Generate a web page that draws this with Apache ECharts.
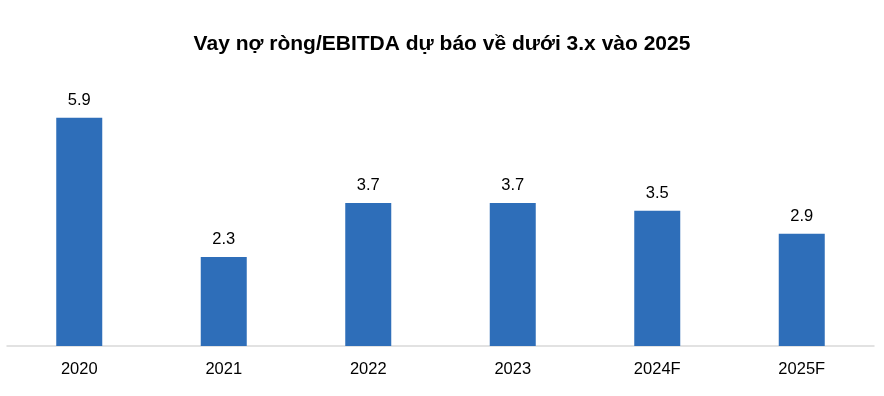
<!DOCTYPE html>
<html><head><meta charset="utf-8">
<script src="https://cdn.jsdelivr.net/npm/echarts@6/dist/echarts.min.js"></script>
<style>html,body{margin:0;padding:0;background:#fff}#c{width:884px;height:396px}</style>
</head><body><div id="c"></div>
<script>
const categories = ['2020','2021','2022','2023','2024F','2025F'];
const values = [5.9, 2.3, 3.7, 3.7, 3.5, 2.9];
const titleText = 'Vay nợ ròng/EBITDA dự báo về dưới 3.x vào 2025';
const chart = echarts.init(document.getElementById('c'));
chart.setOption({
  animation: false,
  backgroundColor: '#fff',
  title: {
    text: titleText, left: 'center', top: 29,
    textStyle: {fontFamily: 'Liberation Sans, Arial', fontWeight: 'bold', fontSize: 21, color: '#000'}
  },
  grid: {left: 7, right: 10, top: 114, bottom: 50},
  xAxis: {
    type: 'category', data: categories,
    axisLine: {lineStyle: {color: '#d9d9d9', width: 1.5}},
    axisTick: {show: false},
    axisLabel: {fontFamily: 'Liberation Sans, Arial', fontSize: 16.5, color: '#000', margin: 15}
  },
  yAxis: {type: 'value', min: 0, max: 6, show: false, splitLine: {show: false}},
  series: [{
    type: 'bar', data: values, barWidth: 46,
    itemStyle: {color: '#2E6EB9'},
    label: {show: true, position: 'top', distance: 9, fontFamily: 'Liberation Sans, Arial', fontSize: 16.5, color: '#000',
      formatter: p => p.value.toFixed(1)}
  }]
});
</script></body></html>
